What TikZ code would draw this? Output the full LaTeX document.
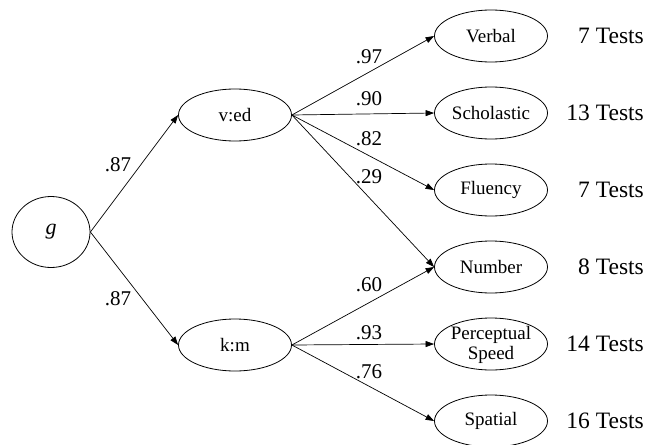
\documentclass[tikz,border=0pt]{standalone}
\usepackage{fontspec}
\setmainfont{Liberation Serif}
\usetikzlibrary{shapes.geometric,arrows.meta}
\begin{document}
\begin{tikzpicture}[x=1pt,y=-1pt,
  ell/.style={draw,ellipse,line width=0.8pt,minimum width=113pt,minimum height=52pt,inner sep=0pt,font=\fontsize{19}{18.5}\selectfont,align=center},
  arr/.style={line width=0.7pt,-{Triangle[length=8.5pt,width=6pt]}},
  lab/.style={font=\fontsize{21}{22}\selectfont,inner sep=0pt},
  tst/.style={font=\fontsize{23.5}{24}\selectfont,inner sep=0pt,anchor=east}]
\useasboundingbox (0,0) rectangle (647,444);
\node[ell,minimum width=78pt,minimum height=71pt,font=\fontsize{22}{22}\selectfont\itshape] (g) at (51,232) {g};
\node[ell] (ved) at (235,115) {v:ed};
\node[ell] (km) at (235,345) {k:m};
\node[ell] (verbal) at (491,36) {Verbal};
\node[ell] (schol) at (491,113) {Scholastic};
\node[ell] (flu) at (491,190) {Fluency};
\node[ell] (num) at (491,267) {Number};
\node[ell] (perc) at (491,344) {};
\node[inner sep=0pt,align=center,font=\fontsize{19}{20}\selectfont] (perctext) at (491,345) {Perceptual\\Speed};
\node[ell] (spat) at (491,421) {Spatial};
\node[tst] (t1) at (644,36) {7 Tests};
\node[tst] (t2) at (644,113) {13 Tests};
\node[tst] (t3) at (644,190) {7 Tests};
\node[tst] (t4) at (644,267) {8 Tests};
\node[tst] (t5) at (644,344) {14 Tests};
\node[tst] (t6) at (644,421) {16 Tests};
\draw[arr] (g.east) -- (ved.west);
\draw[arr] (g.east) -- (km.west);
\draw[arr] (ved.east) -- (verbal.west);
\draw[arr] (ved.east) -- (schol.west);
\draw[arr] (ved.east) -- (flu.west);
\draw[arr] (ved.east) -- (num.west);
\draw[arr] (km.east) -- (num.west);
\draw[arr] (km.east) -- (perc.west);
\draw[arr] (km.east) -- (spat.west);
\node[lab] (l1) at (118,165) {.87};
\node[lab] (l2) at (118,299) {.87};
\node[lab] (l3) at (369,57) {.97};
\node[lab] (l4) at (369,99) {.90};
\node[lab] (l5) at (369,139) {.82};
\node[lab] (l6) at (369,177) {.29};
\node[lab] (l7) at (369,285) {.60};
\node[lab] (l8) at (369,333) {.93};
\node[lab] (l9) at (369,372) {.76};
\end{tikzpicture}
\end{document}
